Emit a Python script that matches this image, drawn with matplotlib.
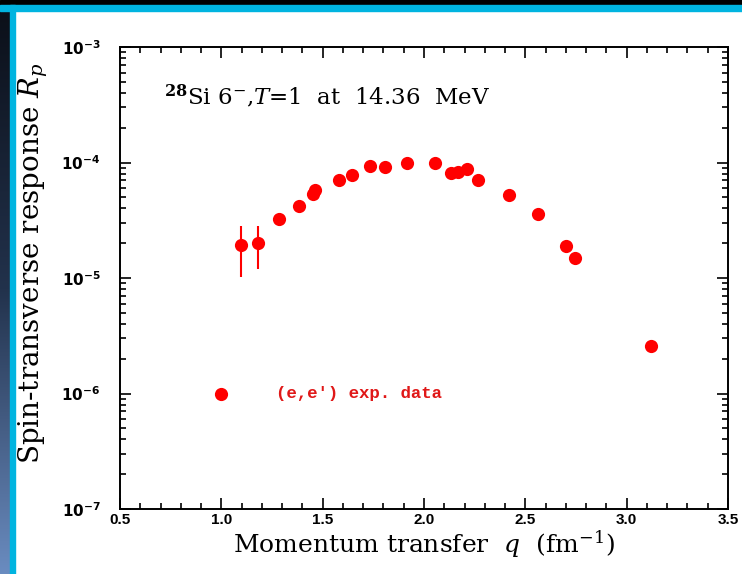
import numpy as np
import matplotlib
matplotlib.use("Agg")
import matplotlib.pyplot as plt
from matplotlib.ticker import FixedLocator, MultipleLocator, LogLocator, NullFormatter, FuncFormatter

plt.rcParams['mathtext.fontset'] = 'dejavuserif'
plt.rcParams['axes.unicode_minus'] = False

# 28Si 6-, T=1 (e,e') data
q = [1.095, 1.182, 1.285, 1.385, 1.451, 1.462, 1.581, 1.643, 1.734, 1.808,
     1.915, 2.054, 2.132, 2.169, 2.211, 2.265, 2.421, 2.564, 2.701, 2.745, 3.12]
Rp = [1.92e-5, 2.0e-5, 3.22e-5, 4.20e-5, 5.33e-5, 5.78e-5, 7.05e-5, 7.79e-5, 9.33e-5, 9.2e-5,
      9.84e-5, 9.84e-5, 8.05e-5, 8.22e-5, 8.73e-5, 7.05e-5, 5.24e-5, 3.58e-5, 1.91e-5, 1.50e-5, 2.56e-6]
# error bars (only the two low-q points have visible ones)
err_q = [1.095, 1.182]
err_hi = [2.82e-5, 2.82e-5]
err_lo = [1.03e-5, 1.19e-5]

xticks = [0.5, 1.0, 1.5, 2.0, 2.5, 3.0, 3.5]
yticks = [1e-7, 1e-6, 1e-5, 1e-4, 1e-3]

red = '#ff0000'

fig = plt.figure(figsize=(7.42, 5.74), dpi=100)
fig.patch.set_facecolor('white')

# slide frame: black band + cyan line on top, dark gradient + cyan on left
W, H = 742.0, 574.0
fig.patches.append(plt.Rectangle((0, 1 - 5 / H), 1, 5 / H, transform=fig.transFigure,
                                 color='black', zorder=0))
fig.patches.append(plt.Rectangle((0, 1 - 11 / H), 1, 6 / H, transform=fig.transFigure,
                                 color='#00b4e0', zorder=0))
gax = fig.add_axes([0, 0, 10 / W, 1 - 5 / H])
grad = np.linspace(0, 1, 256).reshape(-1, 1)
gax.imshow(grad, aspect='auto', cmap=matplotlib.colors.LinearSegmentedColormap.from_list(
    'g', ['#0b0f18', '#22324c', '#6a8cc0']), extent=[0, 1, 0, 1])
gax.axis('off')
fig.patches.append(plt.Rectangle((10 / W, 0), 5 / W, 1 - 5 / H, transform=fig.transFigure,
                                 color='#00b4e0', zorder=0))

ax = fig.add_axes([120 / W, 1 - 509 / H, (728 - 120) / W, (509 - 47) / H])
ax.set_yscale('log')
ax.set_xlim(0.5, 3.5)
ax.set_ylim(1e-7, 1e-3)

ax.vlines(err_q, err_lo, err_hi, color=red, lw=1.5, zorder=2)
ax.plot(q, Rp, 'o', color=red, ms=9.5, mec='none', zorder=3)

# legend drawn inside the plot like the original
ax.plot([1.0], [1e-6], 'o', color=red, ms=9.5, mec='none')
ax.text(1.27, 1e-6, "(e,e\u2032) exp. data", color='#e01818', fontsize=12.5, fontweight='bold',
        family=['Liberation Mono', 'DejaVu Sans Mono'], va='center', ha='left')

title = ax.text(0.715, 10 ** -3.43,
                r'$^{\mathbf{28}}$Si 6$^{-}$,$T$=1  at  14.36  MeV',
                fontsize=16.5, family='DejaVu Serif', va='center', ha='left')

ax.xaxis.set_major_locator(FixedLocator(xticks))
ax.xaxis.set_minor_locator(MultipleLocator(0.1))
ax.yaxis.set_major_locator(FixedLocator(yticks))
ax.yaxis.set_minor_locator(LogLocator(base=10, subs=np.arange(2, 10)))
ax.yaxis.set_minor_formatter(NullFormatter())
ax.xaxis.set_major_formatter(FuncFormatter(lambda v, p: f"{v:.1f}"))
ax.yaxis.set_major_formatter(FuncFormatter(
    lambda v, p: r'$\mathbf{10^{%d}}$' % int(round(np.log10(v)))))

ax.tick_params(which='both', direction='in', top=True, right=True, width=1.2, colors='black')
ax.tick_params(which='major', length=8)
ax.tick_params(which='minor', length=4)
ax.tick_params(axis='x', which='major', pad=3)
ax.tick_params(axis='y', which='major', pad=14)
for lab in ax.get_xticklabels():
    lab.set_fontfamily('Liberation Sans')
    lab.set_fontweight('bold')
    lab.set_fontsize(11)
for lab in ax.get_yticklabels():
    lab.set_math_fontfamily('dejavusans')
    lab.set_fontsize(11)
for s in ax.spines.values():
    s.set_linewidth(1.4)

ax.set_xlabel(r'Momentum transfer  $q$  (fm$^{-1}$)', fontsize=18, family='DejaVu Serif', labelpad=1)
ax.set_ylabel(r'Spin-transverse response $R_p$', fontsize=20, family='DejaVu Serif')
ax.yaxis.set_label_coords(-0.115, 0.532)

fig.savefig('out.png', dpi=100)
